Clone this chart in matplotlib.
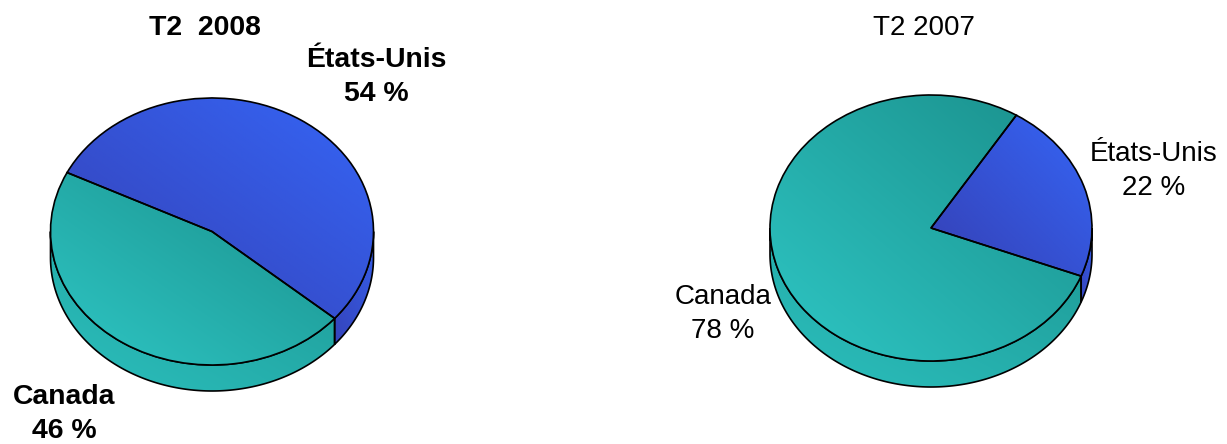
import numpy as np
import matplotlib
matplotlib.use("Agg")
import matplotlib.pyplot as plt
from matplotlib.patches import Polygon
from matplotlib.colors import to_rgb

plt.rcParams['font.family'] = ['Liberation Sans', 'DejaVu Sans']

categories = ["Canada", "États-Unis"]
values_2008 = [46, 54]
values_2007 = [78, 22]
title_2008 = "T2  2008"
title_2007 = "T2 2007"

W, H = 1227, 444
SHADES = {
    "Canada": ("#1A8F8B", "#2EC6C4"),       # top-right, bottom-left
    "États-Unis": ("#3565F6", "#3540B4"),
}
fig = plt.figure(figsize=(W / 100, H / 100), dpi=100, facecolor="white")


def gradient(ax, patch, pts, cat, lo=0.0, hi=1.0):
    """Diagonal gradient over the bbox of pts, clipped by patch."""
    x0, y0 = pts.min(axis=0)
    x1, y1 = pts.max(axis=0)
    u, v = np.meshgrid(np.linspace(0, 1, 64), np.linspace(0, 1, 64))
    t = lo + (hi - lo) * (u + v) / 2        # v=0 is the bottom, u=0 is the left
    a, b = (np.array(to_rgb(c)) for c in SHADES[cat])
    img = b[None, None, :] + (a - b)[None, None, :] * t[:, :, None]
    im = ax.imshow(img, origin="lower", extent=(x0, x1, y0, y1),
                   aspect="auto", interpolation="bilinear", zorder=patch.get_zorder() - 0.1)
    im.set_clip_path(patch)


def arc(a, b, dy=0.0):
    th = np.radians(np.linspace(a, b, 160))
    return np.column_stack([np.cos(th), np.sin(th) - dy])


def draw(rect, cx, cy, rx, ry, depth, values, start):
    px0, px1 = rect
    ax = fig.add_axes([px0 / W, 0, (px1 - px0) / W, 1])
    wedges, _ = ax.pie(values, startangle=start, radius=1, center=(0, 0),
                       wedgeprops=dict(facecolor="none", edgecolor="black", linewidth=1.2, zorder=5))
    ax.set_aspect("auto")
    ax.axis("off")
    dy = depth / ry

    a = start
    for cat, val, w in zip(categories, values, wedges):
        b = a + val * 3.6
        # outer wall: only the front part of the rim shows
        for lo, hi in ((180, 360), (540, 720)):
            s, e = max(a, lo), min(b, hi)
            if e > s:
                pts = np.vstack([arc(s, e), arc(e, s, dy)])
                wall = Polygon(pts, closed=True, facecolor="none", edgecolor="black",
                               linewidth=1.2, zorder=3)
                ax.add_patch(wall)
                gradient(ax, wall, pts, cat, 0.12, 0.8)
        # top face
        top = np.vstack([[[0, 0]], arc(a, b)])
        gradient(ax, w, top, cat)
        a = b
    ax.set_xlim((px0 - cx) / rx, (px1 - cx) / rx)
    ax.set_ylim((cy - H) / ry, cy / ry)
    return ax


def label(x, y, s, bold):
    fig.text(x / W, 1 - y / H, s, ha="center", va="center",
             fontsize=20.4 if bold else 20.0,
             fontweight="bold" if bold else "normal", color="black", linespacing=1.42)


draw((0, 600), 212, 231.5, 161.5, 133.5, 26, values_2008, 153.8)
draw((627, W), 931, 228, 161, 133, 26, values_2007, 58)

label(205, 28, title_2008, True)
label(376, 77, f"{categories[1]}\n{values_2008[1]} %", True)
label(64, 414, f"{categories[0]}\n{values_2008[0]} %", True)
label(924, 28, title_2007, False)
label(1154, 171, f"{categories[1]}\n{values_2007[1]} %", False)
label(723, 314, f"{categories[0]}\n{values_2007[0]} %", False)

fig.savefig("out.png", dpi=100, facecolor="white")
